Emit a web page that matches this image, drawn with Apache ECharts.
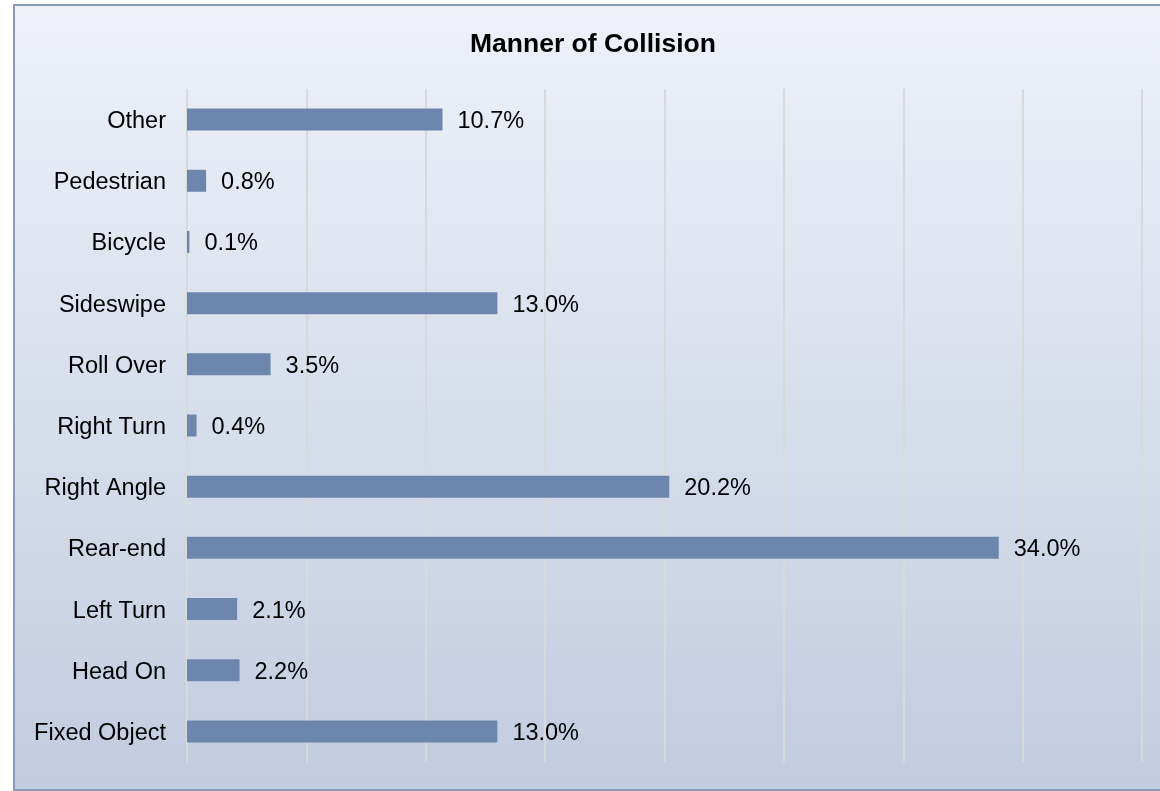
<!DOCTYPE html>
<html>
<head>
<meta charset="utf-8">
<script src="https://cdn.jsdelivr.net/npm/echarts@6/dist/echarts.min.js"></script>
<style>
  html, body { margin: 0; padding: 0; background: #ffffff; }
  #chart { width: 1160px; height: 791px; }
</style>
</head>
<body>
<div id="chart"></div>
<script>
// Categories listed top to bottom
const categories = ['Other', 'Pedestrian', 'Bicycle', 'Sideswipe', 'Roll Over', 'Right Turn', 'Right Angle', 'Rear-end', 'Left Turn', 'Head On', 'Fixed Object'];
const values = [10.7, 0.8, 0.1, 13.0, 3.5, 0.4, 20.2, 34.0, 2.1, 2.2, 13.0];
const titleText = 'Manner of Collision';

const chart = echarts.init(document.getElementById('chart'), null, { renderer: 'canvas' });
const font = 'Arial, "Liberation Sans", sans-serif';

chart.setOption({
  animation: false,
  backgroundColor: '#ffffff',
  graphic: [{
    type: 'rect',
    z: -100,
    zlevel: 0,
    silent: true,
    shape: { x: 14, y: 5, width: 1170, height: 785 },
    style: {
      fill: new echarts.graphic.LinearGradient(0, 0, 0, 1, [
        { offset: 0, color: '#eef1f8' },
        { offset: 1, color: '#c2cce0' }
      ]),
      stroke: '#8c9bb5',
      lineWidth: 2
    }
  }],
  title: {
    text: titleText,
    left: 465,
    top: 26,
    textStyle: { fontFamily: font, fontWeight: 'bold', fontSize: 26.5, color: '#000000' }
  },
  grid: { left: 187, right: 18, top: 89, bottom: 29, containLabel: false },
  xAxis: {
    type: 'value',
    min: 0,
    max: 40,
    interval: 5,
    axisLine: { show: false },
    axisTick: { show: false },
    axisLabel: { show: false },
    splitLine: { show: true, lineStyle: { color: '#d9d9d9', width: 2 } }
  },
  yAxis: {
    type: 'category',
    data: categories,
    inverse: true,
    axisLine: { show: false },
    axisTick: { show: false },
    axisLabel: {
      margin: 21,
      formatter: v => '{a|' + v + '}',
      rich: { a: { fontFamily: font, fontSize: 23.5, color: '#000000', padding: [4, 0, 0, 0] } }
    }
  },
  series: [{
    type: 'bar',
    data: values,
    barWidth: 22,
    itemStyle: { color: '#6c86ae' },
    label: {
      show: true,
      position: 'right',
      distance: 15,
      offset: [0, 2],
      fontFamily: font,
      fontSize: 23.5,
      color: '#000000',
      formatter: p => p.value.toFixed(1) + '%'
    }
  }]
});
</script>
</body>
</html>
